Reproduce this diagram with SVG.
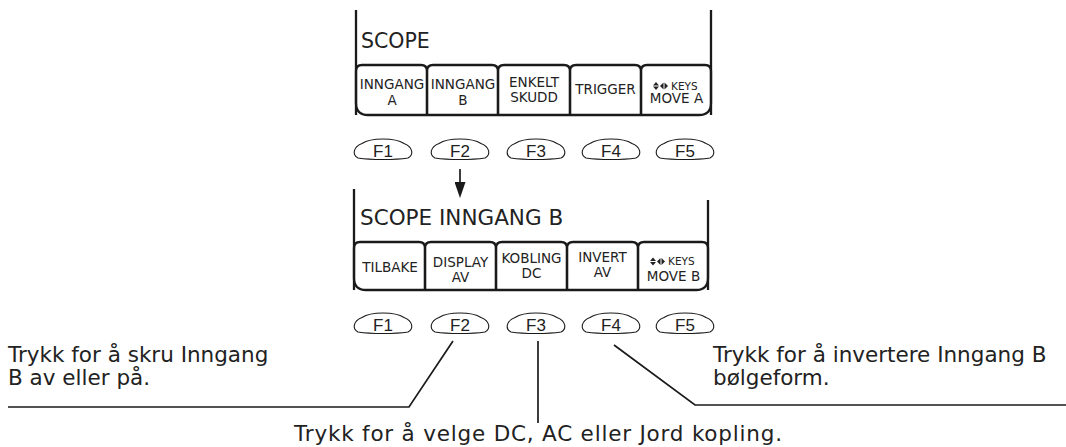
<svg xmlns="http://www.w3.org/2000/svg" width="1066" height="447" viewBox="0 0 1066 447">
<style>
.frame{fill:none;stroke:#1a1a1a;stroke-width:2.3;stroke-linejoin:round}
.key{fill:none;stroke:#1a1a1a;stroke-width:1.1}
.lbl{font-family:"DejaVu Sans",Verdana,sans-serif;font-size:13.5px;fill:#222;text-anchor:middle}
.keys{font-family:"DejaVu Sans",Verdana,sans-serif;font-size:10.5px;fill:#222}
.title{font-family:"DejaVu Sans",Verdana,sans-serif;fill:#222}
.fk{font-family:"Liberation Sans",Arial,sans-serif;font-size:17px;fill:#222;text-anchor:middle}
.note{font-family:"DejaVu Sans",Verdana,sans-serif;font-size:21.5px;fill:#222}
.lead{fill:none;stroke:#1a1a1a;stroke-width:1.7}
.ico{fill:#222}
</style>
<defs>
<path id="fkey" d="M-25,8 C-31,5 -30,-3 -21,-6.5 C-12,-12.5 12,-12.5 21,-6.5 C30,-3 31,5 25,8 C12,10 -12,10 -25,8 Z"/>
<g id="icon">
<polygon points="0,3.5 6,3.5 3,0"/>
<polygon points="0,4.5 6,4.5 3,8"/>
<polygon points="7,4 10.5,0.5 10.5,7.5"/>
<polygon points="11.5,0.5 11.5,7.5 15,4"/>
</g>
<marker id="arr" markerWidth="16" markerHeight="11" refX="1" refY="5.5" orient="auto" markerUnits="userSpaceOnUse" viewBox="0 0 16 11">
<polygon points="0,0 16,5.5 0,11" fill="#1a1a1a"/>
</marker>
</defs>

<g id="panel-scope">
<path class="frame" d="M356,10 V103 Q356,115 368,115 H699 Q711,115 711,103 V10"/>
<text class="title" x="361" y="48" font-size="20.5">SCOPE</text>
</g>
<g id="btn-inngang-a">
<path class="frame" d="M356,115 V71 Q356,65 362,65 H421 Q427,65 427,71 V115"/>
<text class="lbl" x="392" y="89">INNGANG</text>
<text class="lbl" x="392" y="105">A</text>
</g>
<g id="btn-inngang-b">
<path class="frame" d="M427,115 V71 Q427,65 433,65 H492 Q498,65 498,71 V115"/>
<text class="lbl" x="463" y="89">INNGANG</text>
<text class="lbl" x="463" y="105">B</text>
</g>
<g id="btn-enkelt-skudd">
<path class="frame" d="M498,115 V71 Q498,65 504,65 H564 Q570,65 570,71 V115"/>
<text class="lbl" x="534" y="87">ENKELT</text>
<text class="lbl" x="534" y="102">SKUDD</text>
</g>
<g id="btn-trigger">
<path class="frame" d="M570,115 V71 Q570,65 576,65 H635 Q641,65 641,71 V115"/>
<text class="lbl" x="605.5" y="94">TRIGGER</text>
</g>
<g id="btn-move-a">
<path class="frame" d="M641,115 V71 Q641,65 647,65 H705 Q711,65 711,71 V115"/>
<use href="#icon" class="ico" x="653" y="82"/>
<text class="keys" x="671" y="89.5">KEYS</text>
<text class="lbl" x="676.5" y="103">MOVE A</text>
</g>

<g id="fkeys-top">
<use href="#fkey" class="key" x="383" y="150"/>
<use href="#fkey" class="key" x="460" y="150"/>
<use href="#fkey" class="key" x="536" y="150"/>
<use href="#fkey" class="key" x="611" y="150"/>
<use href="#fkey" class="key" x="685" y="150"/>
<text class="fk" x="383" y="156.5">F1</text>
<text class="fk" x="460" y="156.5">F2</text>
<text class="fk" x="536" y="156.5">F3</text>
<text class="fk" x="611" y="156.5">F4</text>
<text class="fk" x="685" y="156.5">F5</text>
</g>

<g id="panel-scope-inngang-b">
<path class="frame" d="M354,189 V278 Q354,290 366,290 H696 Q708,290 708,278 V200"/>
<text class="title" x="360" y="225" font-size="21.5">SCOPE INNGANG B</text>
</g>
<g id="btn-tilbake">
<path class="frame" d="M354,290 V248 Q354,242 360,242 H419 Q425,242 425,248 V290"/>
<text class="lbl" x="390" y="272">TILBAKE</text>
</g>
<g id="btn-display-av">
<path class="frame" d="M425,290 V248 Q425,242 431,242 H490 Q496,242 496,248 V290"/>
<text class="lbl" x="460.5" y="267">DISPLAY</text>
<text class="lbl" x="460.5" y="282">AV</text>
</g>
<g id="btn-kobling-dc">
<path class="frame" d="M496,290 V248 Q496,242 502,242 H561 Q567,242 567,248 V290"/>
<text class="lbl" x="531.5" y="263">KOBLING</text>
<text class="lbl" x="531.5" y="278">DC</text>
</g>
<g id="btn-invert-av">
<path class="frame" d="M567,290 V248 Q567,242 573,242 H632 Q638,242 638,248 V290"/>
<text class="lbl" x="602.5" y="262">INVERT</text>
<text class="lbl" x="602.5" y="277">AV</text>
</g>
<g id="btn-move-b">
<path class="frame" d="M638,290 V248 Q638,242 644,242 H702 Q708,242 708,248 V290"/>
<use href="#icon" class="ico" x="650" y="257.5"/>
<text class="keys" x="668" y="265">KEYS</text>
<text class="lbl" x="673.5" y="281">MOVE B</text>
</g>

<g id="fkeys-bottom">
<use href="#fkey" class="key" x="383" y="324"/>
<use href="#fkey" class="key" x="460" y="324"/>
<use href="#fkey" class="key" x="536" y="324"/>
<use href="#fkey" class="key" x="611" y="324"/>
<use href="#fkey" class="key" x="685" y="324"/>
<text class="fk" x="383" y="330.5">F1</text>
<text class="fk" x="460" y="330.5">F2</text>
<text class="fk" x="536" y="330.5">F3</text>
<text class="fk" x="611" y="330.5">F4</text>
<text class="fk" x="685" y="330.5">F5</text>
</g>

<g id="connectors">
<line class="lead" x1="460" y1="169" x2="460" y2="183" stroke-width="2" marker-end="url(#arr)"/>
<polyline class="lead" points="8,407 409,407 453,341"/>
<line class="lead" x1="538" y1="341" x2="538" y2="423"/>
<polyline class="lead" points="1066,405 695,405 614,345"/>
</g>

<g id="notes">
<text class="note" x="8" y="362">Trykk for å skru Inngang</text>
<text class="note" x="8" y="385">B av eller på.</text>
<text class="note" x="713" y="362">Trykk for å invertere Inngang B</text>
<text class="note" x="713" y="385">bølgeform.</text>
<text class="note" x="538" y="441" text-anchor="middle" font-size="22" textLength="488" lengthAdjust="spacing">Trykk for å velge DC, AC eller Jord kopling.</text>
</g>
</svg>
